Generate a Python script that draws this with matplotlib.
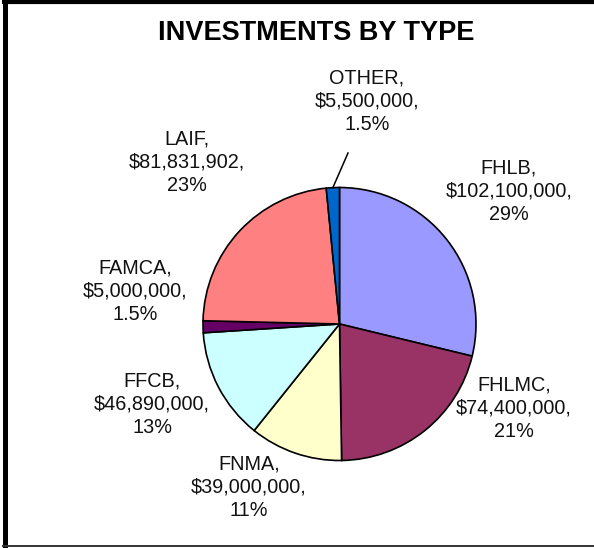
import numpy as np
import matplotlib
matplotlib.use("Agg")
import matplotlib.pyplot as plt
from matplotlib.lines import Line2D

plt.rcParams["font.family"] = ["Liberation Sans", "DejaVu Sans"]

# ── data ────────────────────────────────────────────
names = ["FHLB", "FHLMC", "FNMA", "FFCB", "FAMCA", "LAIF", "OTHER"]
amounts = [102100000, 74400000, 39000000, 46890000, 5000000, 81831902, 5500000]
pct_text = ["29%", "21%", "11%", "13%", "1.5%", "23%", "1.5%"]
colors = ["#9999FF", "#993366", "#FFFFCC", "#CCFFFF", "#660066", "#FF8080", "#0066CC"]

# ── layout (pixels, y measured from top) ───────────
W, H = 594, 548
center_px = (339.5, 324)
radius_px = 136.5
label_pos = [(509, 191), (514, 408), (249, 487), (152, 404),
             (135, 291), (187, 162), (367, 101)]
leader_end = (348, 153)

fig = plt.figure(figsize=(W / 100, H / 100), dpi=100)
ax = fig.add_axes([0, 0, 1, 1])

cx, cy = center_px[0], H - center_px[1]
wedges, _ = ax.pie(amounts, colors=colors, startangle=90, counterclock=False,
                   center=(cx, cy), radius=radius_px,
                   wedgeprops=dict(edgecolor="black", linewidth=1.2))
ax.set_xlim(0, W)
ax.set_ylim(0, H)
ax.set_aspect("equal")
ax.axis("off")

for name, amt, p, (lx, ly) in zip(names, amounts, pct_text, label_pos):
    ax.text(lx, H - ly, f"{name},\n${amt:,},\n{p}", ha="center", va="center",
            fontsize=14.3, linespacing=1.28, color="#111111")

# leader line for OTHER
w = wedges[-1]
mid = np.deg2rad((w.theta1 + w.theta2) / 2)
sx, sy = cx + radius_px * np.cos(mid), cy + radius_px * np.sin(mid)
ax.plot([sx, leader_end[0]], [sy, H - leader_end[1]], color="black", lw=1.1)

ax.text(316, H - 33, "INVESTMENTS BY TYPE", ha="center", va="center",
        fontsize=19.5, fontweight="bold")

# chart frame: top, left, bottom (figure fractions)
fig.add_artist(Line2D([2 / W, 1], [1 - 2 / H, 1 - 2 / H], color="black",
                      lw=3.0, solid_capstyle="butt"))
fig.add_artist(Line2D([4.5 / W, 4.5 / W], [0, 1], color="black",
                      lw=3.6, solid_capstyle="butt"))
fig.add_artist(Line2D([2 / W, 1], [2 / H, 2 / H], color="#333333",
                      lw=1.4, solid_capstyle="butt"))

fig.savefig("out.png", dpi=100, facecolor="white")
